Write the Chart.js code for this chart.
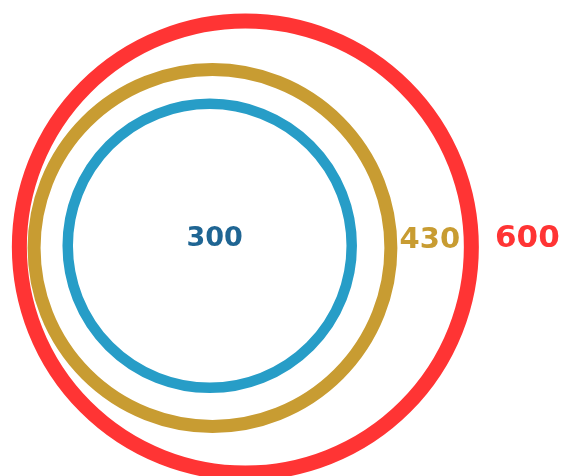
<!DOCTYPE html>
<html>
<head>
<meta charset="utf-8">
<script src="https://cdn.jsdelivr.net/npm/chart.js@4/dist/chart.umd.min.js"></script>
<style>
  html, body { margin: 0; padding: 0; background: #fff; }
  #wrap { width: 563px; height: 476px; position: relative; }
</style>
</head>
<body>
<div id="wrap"><canvas id="ringsChart"></canvas></div>
<script>
// values shown as nested rings
var ringValues = [300, 430, 600];
var ringLabels = ['300', '430', '600'];
// bubble centres on the hidden x / y scales (-50..50)
var centerX = [-12.75, -12.26, -6.42];
var centerY = [-1.64, -2.1, -1.89];

// styles
var ringColors = ['#279dc7', '#c89c32', '#ff3434'];
var textColors = ['#1f6593', '#c89c32', '#ff3434'];
var ringWidths = [10.5, 13, 15];
var labelFontSizes = [27, 29, 31];
var labelDx = [5, 39, 56];   // label shift from centre (0) or from ring edge

// radius in px grows linearly with the value
function ringRadius(v)
{
    return 58 + 0.28 * v;
}

var bubbleData = ringValues.map(function(v, i){
    return {x: centerX[i], y: centerY[i], r: ringRadius(v)};
});

var ringLabelPlugin = {
    id: 'ringLabels',
    afterDatasetsDraw: function(chart){
        var ctx = chart.ctx;
        var meta = chart.getDatasetMeta(0);
        ctx.save();
        ctx.textAlign = 'center';
        ctx.textBaseline = 'alphabetic';
        meta.data.forEach(function(el, i){
            var r = el.options.radius;
            var x = i === 0 ? el.x + labelDx[i] : el.x + r + labelDx[i];
            ctx.font = 'bold ' + labelFontSizes[i] + 'px "DejaVu Sans"';
            ctx.fillStyle = textColors[i];
            ctx.fillText(ringLabels[i], x, el.y + 0.5);
        });
        ctx.restore();
    }
};

var chart = new Chart(document.getElementById('ringsChart'), {
    type: 'bubble',
    data: {
        datasets: [{
            data: bubbleData,
            backgroundColor: 'rgba(0,0,0,0)',
            borderColor: ringColors,
            borderWidth: ringWidths,
            hoverRadius: 0,
            clip: false
        }]
    },
    options: {
        responsive: true,
        maintainAspectRatio: false,
        animation: false,
        events: [],
        // bubble charts pad by the largest radius by default, keep the full canvas
        layout: { padding: 0, autoPadding: false },
        plugins: {
            legend: { display: false },
            tooltip: { enabled: false }
        },
        scales: {
            x: { type: 'linear', min: -50, max: 50, display: false },
            y: { type: 'linear', min: -50, max: 50, display: false }
        }
    },
    plugins: [ringLabelPlugin]
});
</script>
</body>
</html>
